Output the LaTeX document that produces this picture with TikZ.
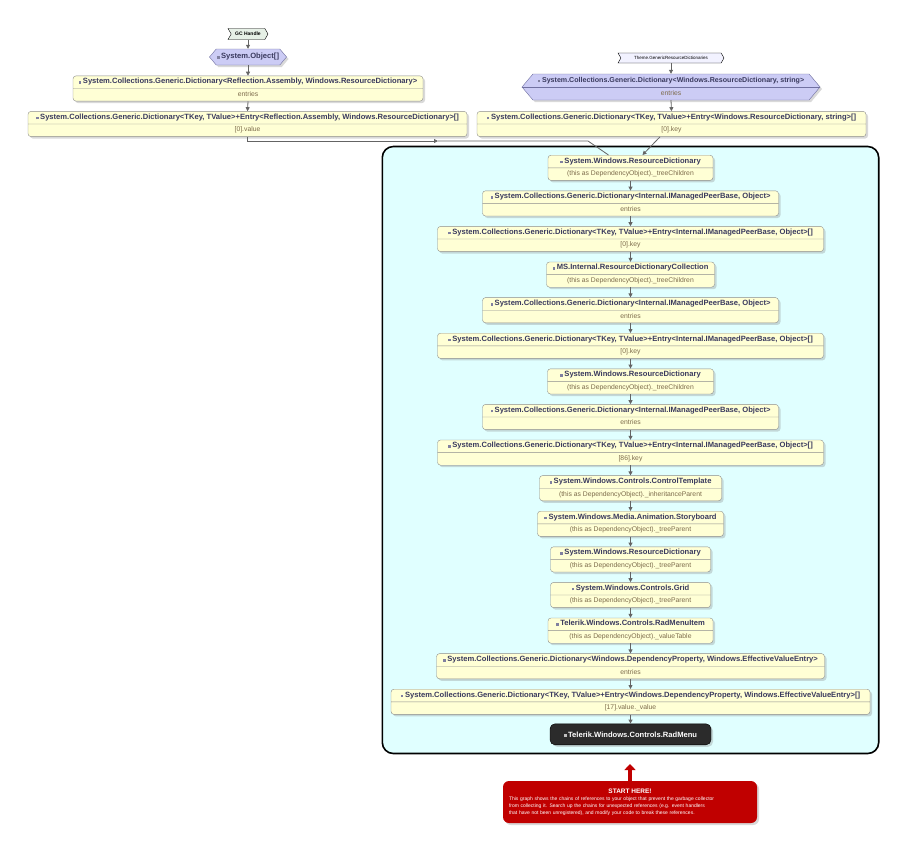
\documentclass[tikz,border=0pt]{standalone}
\usepackage{fontspec}
\setmainfont{Liberation Sans}
\usepackage{xcolor}
\usetikzlibrary{arrows.meta,positioning,fit,backgrounds,shapes.multipart,shapes.symbols,shadows}

\definecolor{boxfill}{HTML}{FFFFD5}
\definecolor{boxline}{HTML}{8C8C8C}
\definecolor{lav}{HTML}{CCCCF5}
\definecolor{hexline}{HTML}{7070A0}
\definecolor{gcfill}{HTML}{E6F0E6}
\definecolor{themefill}{HTML}{F2F2FF}
\definecolor{clusterfill}{HTML}{E0FFFF}
\definecolor{ttlcol}{HTML}{3A3A5E}
\definecolor{fldcol}{HTML}{7D6B4B}
\definecolor{icogray}{HTML}{8080A0}
\definecolor{edgecol}{HTML}{646464}
\definecolor{startred}{HTML}{C00000}
\definecolor{menudark}{HTML}{2B2B2B}

\newcommand{\ico}[1][icogray]{\textcolor{#1}{\rule{2.6pt}{2.6pt}}\hspace{1.6pt}}
\newcommand{\ttl}[2][7.6]{{\fontsize{#1}{8}\selectfont\bfseries\color{ttlcol}\strut\ico#2}}
\newcommand{\fld}[1]{{\fontsize{6.8}{8}\selectfont\color{fldcol}\strut#1}}

\begin{document}
\begin{tikzpicture}[
		x=1pt, y=-1pt,
		shade/.style={drop shadow={shadow xshift=2pt, shadow yshift=-2pt, opacity=.3}},
		objbox/.style={
			rectangle split,
			rectangle split parts=2,
			draw=boxline,
			fill=boxfill,
			rounded corners=3pt,
			inner xsep=4pt,
			inner ysep=2.1pt,
			shade
		},
		hexbox/.style={
			signal,
			signal to=west and east,
			signal pointer angle=100,
			draw=hexline,
			fill=lav,
			align=center,
			inner sep=0pt,
			font=\fontsize{7}{12.8}\selectfont,
			shade
		},
		flagbox/.style={
			signal,
			signal from=west and east,
			signal pointer angle=120,
			draw=black,
			inner sep=1pt,
			font=\fontsize{5}{6}\selectfont
		},
		cluster/.style={
			draw=black,
			line width=1.6pt,
			fill=clusterfill,
			rounded corners=11pt,
			inner sep=8.5pt
		},
		ref/.style={draw=edgecol, line width=.8pt, -{Triangle[length=4pt,width=4pt]}},
		refline/.style={draw=edgecol, line width=.8pt}
		]
		
		\useasboundingbox (0,0) rectangle (907,852);
		
		\node[flagbox, fill=gcfill, minimum width=40pt, minimum height=11pt] (gch) at (248,34) {\textbf{GC Handle}};
		\node[hexbox, minimum width=77pt, minimum height=16pt] (objarr) at (248,57) {\ttl{System.Object[]}};
		\node[objbox, minimum width=350pt] (dictRA) at (248,88.5)
		{\ttl{System.Collections.Generic.Dictionary<Reflection.Assembly, Windows.ResourceDictionary>}
			\nodepart{two}\fld{entries}};
		\node[objbox, minimum width=439pt] (entRA) at (247.5,124)
		{\ttl{System.Collections.Generic.Dictionary<TKey, TValue>+Entry<Reflection.Assembly, Windows.ResourceDictionary>[]}
			\nodepart{two}\fld{[0].value}};
		
		\node[flagbox, fill=themefill, minimum width=106pt, minimum height=10pt, font=\fontsize{4.5}{5}\selectfont] (theme) at (671,58) {Theme.GenericResourceDictionaries};
		\node[hexbox, minimum width=298pt, minimum height=26pt] (dictWRS) at (671,87)
		{\ttl[7.1]{System.Collections.Generic.Dictionary<Windows.ResourceDictionary, string>}\\\fld{entries}};
		\draw[draw=hexline] (dictWRS.west) -- (dictWRS.east);
		\node[objbox, minimum width=389pt] (entWRS) at (671.5,124)
		{\ttl{System.Collections.Generic.Dictionary<TKey, TValue>+Entry<Windows.ResourceDictionary, string>[]}
			\nodepart{two}\fld{[0].key}};
		
		\node[objbox, minimum width=165pt] (rd1) at (630.5,167.8)
		{\ttl{System.Windows.ResourceDictionary}\nodepart{two}\fld{(this as DependencyObject).\_treeChildren}};
		\node[objbox, minimum width=296pt, below=10pt of rd1] (dipm1)
		{\ttl{System.Collections.Generic.Dictionary<Internal.IManagedPeerBase, Object>}\nodepart{two}\fld{entries}};
		\node[objbox, minimum width=386pt, below=10pt of dipm1] (ent1)
		{\ttl{System.Collections.Generic.Dictionary<TKey, TValue>+Entry<Internal.IManagedPeerBase, Object>[]}\nodepart{two}\fld{[0].key}};
		\node[objbox, minimum width=168pt, below=10pt of ent1] (rdc)
		{\ttl{MS.Internal.ResourceDictionaryCollection}\nodepart{two}\fld{(this as DependencyObject).\_treeChildren}};
		\node[objbox, minimum width=296pt, below=10pt of rdc] (dipm2)
		{\ttl{System.Collections.Generic.Dictionary<Internal.IManagedPeerBase, Object>}\nodepart{two}\fld{entries}};
		\node[objbox, minimum width=386pt, below=10pt of dipm2] (ent2)
		{\ttl{System.Collections.Generic.Dictionary<TKey, TValue>+Entry<Internal.IManagedPeerBase, Object>[]}\nodepart{two}\fld{[0].key}};
		\node[objbox, minimum width=166pt, below=10pt of ent2] (rd2)
		{\ttl{System.Windows.ResourceDictionary}\nodepart{two}\fld{(this as DependencyObject).\_treeChildren}};
		\node[objbox, minimum width=296pt, below=10pt of rd2] (dipm3)
		{\ttl{System.Collections.Generic.Dictionary<Internal.IManagedPeerBase, Object>}\nodepart{two}\fld{entries}};
		\node[objbox, minimum width=386pt, below=10pt of dipm3] (ent3)
		{\ttl{System.Collections.Generic.Dictionary<TKey, TValue>+Entry<Internal.IManagedPeerBase, Object>[]}\nodepart{two}\fld{[86].key}};
		\node[objbox, minimum width=182pt, below=10pt of ent3] (ctpl)
		{\ttl{System.Windows.Controls.ControlTemplate}\nodepart{two}\fld{(this as DependencyObject).\_inheritanceParent}};
		\node[objbox, minimum width=186pt, below=10pt of ctpl] (sboard)
		{\ttl{System.Windows.Media.Animation.Storyboard}\nodepart{two}\fld{(this as DependencyObject).\_treeParent}};
		\node[objbox, minimum width=160pt, below=10pt of sboard] (rd3)
		{\ttl{System.Windows.ResourceDictionary}\nodepart{two}\fld{(this as DependencyObject).\_treeParent}};
		\node[objbox, minimum width=160pt, below=10pt of rd3] (grid)
		{\ttl{System.Windows.Controls.Grid}\nodepart{two}\fld{(this as DependencyObject).\_treeParent}};
		\node[objbox, minimum width=165pt, below=10pt of grid] (rmitem)
		{\ttl{Telerik.Windows.Controls.RadMenuItem}\nodepart{two}\fld{(this as DependencyObject).\_valueTable}};
		\node[objbox, minimum width=388pt, below=10pt of rmitem] (dpe)
		{\ttl{System.Collections.Generic.Dictionary<Windows.DependencyProperty, Windows.EffectiveValueEntry>}\nodepart{two}\fld{entries}};
		\node[objbox, minimum width=479pt, below=10pt of dpe] (ent4)
		{\ttl{System.Collections.Generic.Dictionary<TKey, TValue>+Entry<Windows.DependencyProperty, Windows.EffectiveValueEntry>[]}\nodepart{two}\fld{[17].value.\_value}};
		\node[fill=menudark, draw=black, rounded corners=5pt, minimum width=161pt, minimum height=21pt,
		text=white, font=\fontsize{7.6}{8}\selectfont\bfseries, shade, below=9pt of ent4] (radmenu)
		{\ico[lightgray]Telerik.Windows.Controls.RadMenu};
		
		\begin{scope}[on background layer]
			\node[cluster, fit=(rd1)(ent4)(radmenu)] (grp) {};
		\end{scope}
		
		\node[fill=startred, rounded corners=6pt, text=white, text width=242pt, inner xsep=6pt,
		minimum height=42pt, align=left, font=\fontsize{5}{7}\selectfont, shade] (start) at (630,802)
		{{\centering\bfseries\fontsize{6.5}{7.5}\selectfont START HERE!\par}
			This graph shows the chains of references to your object that prevent the garbage collector\\
			from collecting it. Search up the chains for unexpected references (e.g. event handlers\\
			that have not been unregistered), and modify your code to break these references.};
		\coordinate (starttip) at (630,764);
		\draw[startred, line width=4.5pt, -{Triangle[length=6pt,width=11pt]}] (start.north) -- (starttip);
		
		\foreach \a/\b in {gch/objarr, objarr/dictRA, dictRA/entRA, theme/dictWRS, dictWRS/entWRS,
			rd1/dipm1, dipm1/ent1, ent1/rdc, rdc/dipm2, dipm2/ent2, ent2/rd2, rd2/dipm3, dipm3/ent3,
			ent3/ctpl, ctpl/sboard, sboard/rd3, rd3/grid, grid/rmitem, rmitem/dpe, dpe/ent4, ent4/radmenu}
		\draw[ref] (\a.south) -- (\b.north);
		
		\coordinate (lmid) at (438,141);
		\coordinate (lbend) at (588,141);
		\draw[ref] (entRA.south) |- (lmid);
		\draw[refline] (lmid) -- (lbend) -- ([xshift=-22pt]rd1.north);
		\draw[ref] ([xshift=-11.5pt]entWRS.south) -- ([xshift=12pt]rd1.north);
		
	\end{tikzpicture}
\end{document}
